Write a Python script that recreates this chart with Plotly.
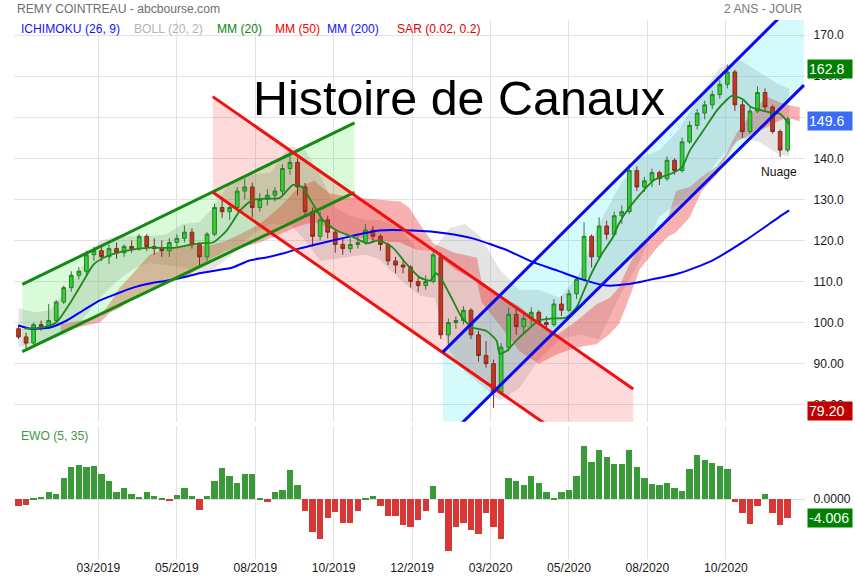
import plotly.graph_objects as go

# ---------------- DATA ----------------
# x = trading-session number (0 = start of the 2-year window); one candle per week
session = list(range(3, 514, 5))

opens = [98.5, 96.5, 95, 99.5, 99, 100.5, 105, 108.5, 111.5, 112.5,
         116.5, 117.5, 116, 118, 117, 118.5, 118, 121, 118.5, 118,
         117.5, 119.5, 120.5, 122, 119, 116, 121.5, 128, 127, 128,
         132, 133, 128, 130, 131, 132, 137.5, 139, 133, 127,
         121, 125, 122, 119, 118, 119, 119.5, 122.5, 121, 119,
         115, 114, 113.5, 110, 109, 110, 116, 97, 100, 100.5,
         103, 97, 92, 90, 83, 94, 102, 99, 101, 102.5,
         100, 99.5, 104.5, 103, 107, 110.5, 121, 116, 123.5, 121.5,
         126, 127, 137, 133, 134.5, 136.5, 135, 139.5, 137, 144,
         148, 151, 153, 155.5, 158, 161, 153, 146.5, 151.5, 156,
         152.5, 146.5, 142]
highs = [99.5, 97.5, 100, 100.5, 104.5, 105.5, 109, 112.5, 113.5, 117.5,
         118.5, 118.5, 119, 119.5, 119, 120, 121.5, 121.5, 120.5, 120,
         120.5, 121.5, 123.6, 123, 119.5, 122, 129, 130.5, 129, 133,
         135, 134, 131.5, 132.5, 133, 138.5, 142, 140, 134, 128,
         127, 126, 122.5, 120.5, 120.5, 121, 124, 123.5, 121.5, 119.5,
         116, 115.5, 114, 111, 111.5, 117.5, 117, 101, 101.5, 104,
         103.5, 98, 95.5, 91, 95, 103.7, 103.5, 102, 103.7, 103,
         101.5, 105.7, 106.5, 108, 111, 124.4, 121.5, 125.6, 124.8, 127,
         128.5, 138.6, 138, 135.5, 137.5, 137, 140.5, 140, 145, 149,
         152, 154, 156.5, 159, 162.8, 161.5, 154, 152.5, 157.5, 157,
         153, 147, 150]
lows = [96, 93.8, 94.5, 98, 98.5, 100, 104.5, 107.5, 110.5, 111.5,
        115, 115, 114.3, 115.5, 116, 117, 117.5, 117.5, 116.5, 116,
        116, 118.5, 119.5, 118, 113.5, 115, 121, 125.5, 125, 127,
        130, 125.6, 127, 128.5, 129.5, 131, 136, 131, 126, 118.5,
        120, 120.5, 117, 116.5, 117, 118, 119, 119.5, 117.5, 114,
        112, 112, 108.5, 107.5, 108, 109.5, 96, 94.5, 98.5, 99.5,
        96, 90.5, 89, 79.2, 82.5, 93, 97, 97.5, 99, 99.5,
        98, 99, 101.6, 102.5, 105.7, 110, 113.4, 115.5, 120.2, 121,
        124, 126.5, 132, 131.8, 133, 133.5, 134.5, 136, 136.5, 143.5,
        147, 149.5, 152, 154.5, 157, 151.5, 145, 146, 151, 151.5,
        146, 140.3, 141.5]
closes = [96.5, 95, 99.5, 99, 100.5, 105, 108.5, 111.5, 112.5, 116.5,
          117.5, 116, 118, 117, 118.5, 118, 121, 118.5, 118, 117.5,
          119.5, 120.5, 122, 119, 116, 121.5, 128, 127, 128, 132,
          133, 128, 130, 131, 132, 137.5, 139, 133, 127, 121,
          125, 122, 119, 118, 119, 119.5, 122.5, 121, 119, 115,
          114, 113.5, 110, 109, 110, 116.5, 97, 100, 100.5, 103,
          97, 92, 90, 83, 94, 102, 99, 101, 102.5, 100,
          99.5, 104.5, 103, 107, 110.5, 121, 116, 123.5, 121.5, 126,
          127, 137, 133, 134.5, 136.5, 135, 139.5, 137, 144, 148,
          151, 153, 155.5, 158, 161, 153, 146.5, 151.5, 156, 152.5,
          146.5, 142, 149.6]

# Elliott Wave Oscillator (5, 35), one value per candle
ewo = [-1.4, -1.2, 0.3, 0.6, 1.6, 1.2, 4.5, 7.0, 7.4, 7.0,
       7.2, 5.5, 4.0, 1.5, 2.5, 1.2, 0.6, 1.5, 0.7, 0.3,
       -0.4, 1.0, 2.5, 0.8, -2.2, 0.8, 4.0, 6.8, 5.0, 3.5,
       5.5, 5.5, 0.2, -0.5, 1.5, 2.0, 6.3, 3.0, -2.5, -7.0,
       -8.5, -4.0, -2.8, -5.0, -5.0, -2.5, 0.2, 0.8, -1.5, -3.5,
       -3.5, -5.5, -6.0, -4.5, -2.5, 2.8, -3.0, -11.0, -6.0, -5.0,
       -6.5, -7.5, -3.0, -6.0, -8.5, 4.5, 4.0, 3.0, 5.0, 3.5,
       1.5, 0.3, 1.5, 2.0, 5.0, 11.5, 8.0, 10.5, 9.0, 7.5,
       7.5, 10.5, 7.0, 4.5, 3.2, 3.0, 3.5, 2.5, 1.8, 6.5,
       9.5, 8.5, 7.8, 7.2, 6.5, -0.5, -3.0, -5.3, -1.5, 1.2,
       -3.0, -5.5, -4.006]

# moving averages (session, value)
mm20_x = [7, 19, 28, 38, 46, 53, 62, 73, 88, 106, 115, 123, 132, 141, 150, 158, 168, 176, 185, 191,
          198, 205, 214, 225, 234, 242, 251, 260, 269, 276, 280, 284, 291, 297, 304, 313, 320, 322, 327, 333,
          340, 348, 357, 366, 373, 377, 383, 390, 397, 401, 408, 424, 436, 443, 448, 457, 466, 472, 476, 483,
          489, 501, 508, 514]
mm20_v = [98.5, 98.8, 100, 105.2, 110.1, 114.2, 116.2, 117.4, 118.2, 118.2, 118.8, 119.3, 119.5, 122.4, 127.3, 129.8, 130.2, 130.3, 133.5, 133,
          129, 124.9, 122.4, 120.8, 119.3, 120, 118.3, 114.4, 111, 110.2, 112, 110.2, 105.4, 101.2, 98.8, 98, 95.6, 92.4, 93.2, 95.6,
          98, 100.5, 101, 101.2, 103.7, 107, 112, 116.8, 120.7, 124, 128, 134.6, 136.3, 137.8, 141.8, 146.7, 151.6, 154, 155.2, 154.4,
          152.4, 151.2, 150.8, 148.3]

mm200_x = [3, 11, 24, 35, 46, 57, 68, 79, 90, 101, 112, 123, 134, 145, 156, 168, 178, 189, 198, 221,
           242, 264, 287, 304, 327, 344, 360, 375, 393, 406, 419, 441, 463, 485, 507, 514]
mm200_v = [99.3, 98.5, 98.8, 100.5, 103, 105.4, 107, 108.5, 109.5, 110.2, 111, 112, 112.7, 113.4, 115.1, 115.9, 116.8, 118, 118.8, 120.8,
           122.4, 122.4, 121.7, 120.5, 117.6, 114.7, 112.7, 110.7, 109, 109.3, 110.2, 112, 115.1, 120, 125.6, 127.3]

# Bollinger (20, 2) envelope
boll_x = [3, 14, 24, 35, 46, 57, 68, 79, 90, 101, 112, 123, 132, 143, 156, 170, 183, 193, 203, 213,
          223, 233, 242, 256, 269, 279, 289, 299, 309, 322, 335, 348, 362, 375, 388, 401, 415, 428, 441, 454,
          468, 481, 494, 507, 514]
boll_up = [103.5, 102.5, 103, 108, 114, 120, 121, 121, 121, 121.5, 124, 124.5, 128, 134, 136, 136.5, 143, 142, 136, 128,
           126, 125, 125, 123, 117, 118, 123, 124, 121, 113, 108, 108, 106, 112, 124, 133, 140, 142, 147, 155,
           162, 164, 161, 158, 157]
boll_lo = [94, 95, 96, 97, 101, 106, 110, 113, 114.5, 114, 113.5, 112, 113, 116, 121, 124, 124, 120, 115, 115.5,
           116, 116.5, 115.5, 110.5, 106.5, 106, 93, 88, 85, 81, 84, 91, 96, 97, 96, 106, 115, 126, 129, 133,
           140, 145, 144, 141, 140.5]

# Ichimoku (26, 9) cloud: upper and lower edge
cloud_x = [31, 44, 57, 64, 70, 79, 90, 101, 115, 128, 141, 150, 163, 176, 189, 199, 209, 223, 239, 256,
           262, 269, 278, 292, 307, 310, 325, 335, 348, 360, 373, 386, 395, 401, 406, 415, 426, 434, 439, 448,
           456, 466, 472, 479, 487, 499, 512, 521]
cloud_top = [99.5, 100.5, 101.5, 105, 108.5, 112, 116.5, 118, 119, 118.5, 120, 121.5, 124, 128, 133, 134.5, 131.5, 130.5, 130, 129.5,
             128, 124, 119.3, 117, 115.8, 110, 106, 104, 100, 97, 100.4, 104.4, 106, 108.5, 112.6, 119, 122.3, 126, 132, 133,
             135.5, 138, 141, 146, 150, 155, 153, 152.4]
cloud_bot = [97.5, 99, 100, 102.5, 103.5, 106, 108.3, 109.5, 111, 115, 117.5, 118.3, 119.5, 121.5, 123.5, 124.5, 123, 121, 120, 119.5,
             118.5, 117.5, 117.5, 113, 110, 105, 98, 93, 90, 92.3, 93.9, 94.7, 97.2, 99.6, 104, 113, 118, 121, 122, 125.6,
             132, 136, 140, 144, 145.5, 147.5, 150, 149]

# drawn channels: [start session, end session], upper line values, lower line values
green_chan_x = [5.5, 225.8]
green_chan_up = [109.3, 148.6]
green_chan_lo = [92.9, 131.7]
red_chan_x = [131.8, 410.6]
red_chan_up = [155.0, 83.8]
red_chan_lo = [131.7, 60.4]
blue_chan_x = [284.3, 523.8]
blue_chan_up = [92.8, 180.2]
blue_chan_lo = [70.9, 157.8]

tick_pos = [56, 108, 160, 212, 264, 316, 368, 420, 472]
tick_labels = ["03/2019", "05/2019", "08/2019", "10/2019", "12/2019",
               "03/2020", "05/2020", "08/2020", "10/2020"]
price_ticks = [80, 90, 100, 110, 120, 130, 140, 150, 160, 170]
price_tick_text = ["80.00", "90.00", "100.0", "110.0", "120.0", "130.0",
                   "140.0", "150.0", "160.0", "170.0"]

last_high = 162.8
last_close = 149.6
period_low = 79.20
last_ewo = -4.006

# ---------------- GEOMETRY ----------------
# the page photo comes out ~1% smaller than the figure; compensate
SX = 0.9907
SY = 0.988
W = round(855 / SX)
H = round(580 / SY)
ML = 14 / SX
MT = 20 / SY
PLOT_R = 806 / SX
PLOT_B = 558 / SY
MR = W - PLOT_R
MB = H - PLOT_B
PW = PLOT_R - ML
PH = PLOT_B - MT


def fx(p):  # target picture px -> paper x
    return (p / SX - ML) / PW


def fy(p):  # target picture px -> paper y
    return (PLOT_B - p / SY) / PH


def fs(s):
    return s / SX


price_dom = [fy(421), 1]
ewo_dom = [0, fy(425)]

FONT = "Liberation Sans, Arial, sans-serif"
fig = go.Figure()

fig.add_trace(go.Candlestick(
    x=session, open=opens, high=highs, low=lows, close=closes,
    increasing=dict(fillcolor="#2fd02f", line=dict(color="#2d7d2d", width=1)),
    decreasing=dict(fillcolor="#c8341e", line=dict(color="#7d3020", width=1)),
    whiskerwidth=0, showlegend=False))

fig.add_trace(go.Scatter(x=mm200_x, y=mm200_v, mode="lines",
                         line=dict(color="#0000ff", width=2, shape="spline", smoothing=0.6),
                         showlegend=False))
fig.add_trace(go.Scatter(x=mm20_x, y=mm20_v, mode="lines",
                         line=dict(color="#1e8a1e", width=1.8, shape="spline", smoothing=0.6),
                         showlegend=False))

fig.add_trace(go.Bar(x=session, y=ewo, xaxis="x2", yaxis="y2", width=4.2,
                     marker=dict(color=["#3a9a3a" if v >= 0 else "#d93636" for v in ewo],
                                 line=dict(width=0)),
                     showlegend=False))


def band_path(xs, top, bot):
    fwd = " L ".join(f"{x},{y}" for x, y in zip(xs, top))
    back = " L ".join(f"{x},{y}" for x, y in zip(reversed(xs), reversed(bot)))
    return f"M {fwd} L {back} Z"


def band(xs, top, bot, fill_color):
    return dict(type="path", path=band_path(xs, top, bot), xref="x", yref="y",
                fillcolor=fill_color, line=dict(width=0), layer="between")


def channel_fill(xs, up, lo, fill_color):
    return band(xs, up, lo, fill_color)


def channel_lines(xs, up, lo, line_color):
    return [
        dict(type="line", x0=xs[0], y0=up[0], x1=xs[1], y1=up[1], xref="x", yref="y",
             line=dict(color=line_color, width=3), layer="above"),
        dict(type="line", x0=xs[0], y0=lo[0], x1=xs[1], y1=lo[1], xref="x", yref="y",
             line=dict(color=line_color, width=3), layer="above"),
    ]


shapes = [
    band(boll_x, boll_up, boll_lo, "rgba(150,150,150,0.26)"),
    band(cloud_x, cloud_top, cloud_bot, "rgba(236,60,60,0.40)"),
    channel_fill(green_chan_x, green_chan_up, green_chan_lo, "rgba(30,230,30,0.17)"),
    channel_fill(red_chan_x, red_chan_up, red_chan_lo, "rgba(245,40,40,0.17)"),
    channel_fill(blue_chan_x, blue_chan_up, blue_chan_lo, "rgba(0,225,235,0.17)"),
]
shapes += channel_lines(green_chan_x, green_chan_up, green_chan_lo, "#138a13")
shapes += channel_lines(red_chan_x, red_chan_up, red_chan_lo, "#f01010")
shapes += channel_lines(blue_chan_x, blue_chan_up, blue_chan_lo, "#0a0aee")

ann = []
ann.append(dict(text="REMY COINTREAU - abcbourse.com", xref="paper", yref="paper",
                x=fx(15), y=fy(9), xanchor="left", yanchor="middle", showarrow=False,
                font=dict(family=FONT, size=fs(12), color="#6e6e6e")))
ann.append(dict(text="2 ANS - JOUR", xref="paper", yref="paper",
                x=fx(805), y=fy(9), xanchor="right", yanchor="middle", showarrow=False,
                font=dict(family=FONT, size=fs(12), color="#7a7a7a")))
legend_items = [("ICHIMOKU (26, 9)", "#1414ff", 19), ("BOLL (20, 2)", "#b4b4b4", 132),
                ("MM (20)", "#118811", 215), ("MM (50)", "#ff0000", 273),
                ("MM (200)", "#1414ff", 325), ("SAR (0.02, 0.2)", "#e00000", 395)]
for txt, col, px in legend_items:
    ann.append(dict(text=txt, xref="paper", yref="paper", x=fx(px), y=fy(29),
                    xanchor="left", yanchor="middle", showarrow=False,
                    font=dict(family=FONT, size=fs(12), color=col)))
ann.append(dict(text="EWO (5, 35)", xref="paper", yref="paper", x=fx(19), y=fy(435),
                xanchor="left", yanchor="middle", showarrow=False,
                font=dict(family=FONT, size=fs(12), color="#3a9a3a")))
ann.append(dict(text="Histoire de Canaux", xref="paper", yref="paper", x=fx(460), y=fy(98),
                xanchor="center", yanchor="middle", showarrow=False,
                font=dict(family=FONT, size=fs(48), color="#000000")))
ann.append(dict(text="Nuage", xref="x", yref="y", x=507, y=136.7,
                xanchor="center", yanchor="middle", showarrow=False,
                font=dict(family=FONT, size=fs(12), color="#111111")))


def value_box(txt, yref, yv, color):
    return dict(text=txt, xref="paper", yref=yref, x=fx(808), y=yv,
                xanchor="left", yanchor="middle", showarrow=False, align="left",
                width=fs(42), height=fs(16), borderpad=1, bgcolor=color,
                font=dict(family=FONT, size=fs(14), color="white"))


ann.append(value_box(f"{last_high:.1f}", "y", 161.7, "#008000"))
ann.append(value_box(f"{last_close:.1f}", "y", 149.0, "#3a6cf5"))
ann.append(value_box(f"{period_low:.2f}", "y", 78.4, "#c00000"))
ann.append(value_box(f"{last_ewo:.3f}", "y2", -3.94, "#008000"))

fig.update_layout(
    width=W, height=H, autosize=False,
    margin=dict(l=ML, r=MR, t=MT, b=MB, pad=0),
    paper_bgcolor="white", plot_bgcolor="white",
    showlegend=False, bargap=0,
    font=dict(family=FONT, size=fs(12), color="#1a1a1a"),
    xaxis=dict(domain=[0, 1], range=[0, 524.5], anchor="y", tickvals=tick_pos,
               showticklabels=False, showgrid=True, gridcolor="#e3e3e3", gridwidth=1,
               zeroline=False, showline=False, ticks="", rangeslider=dict(visible=False)),
    yaxis=dict(domain=price_dom, range=[75.85, 173.66], side="right", anchor="x",
               tickvals=price_ticks, ticktext=price_tick_text, showgrid=True,
               gridcolor="#e3e3e3", gridwidth=1, zeroline=False, showline=False,
               ticks="outside", ticklen=5, tickcolor="rgba(0,0,0,0)",
               tickfont=dict(family=FONT, size=fs(12), color="#1a1a1a")),
    xaxis2=dict(domain=[0, 1], range=[0, 524.5], anchor="y2", matches="x",
                tickvals=tick_pos, ticktext=tick_labels, showgrid=True,
                gridcolor="#e3e3e3", gridwidth=1, zeroline=False, showline=False,
                ticks="", tickfont=dict(family=FONT, size=fs(12), color="#1a1a1a")),
    yaxis2=dict(domain=ewo_dom, range=[-12.8, 15.7], side="right", anchor="x2",
                tickvals=[0], ticktext=["0.0000"], showgrid=False, zeroline=True,
                zerolinecolor="#dcdcdc", zerolinewidth=1, showline=False,
                ticks="outside", ticklen=5, tickcolor="rgba(0,0,0,0)",
                tickfont=dict(family=FONT, size=fs(12), color="#1a1a1a")),
    shapes=shapes,
    annotations=ann,
)

fig.write_html(
    "out.html", config={"displayModeBar": False, "responsive": False},
    post_script=("var d=document.getElementById('{plot_id}');"
                 "d.style.position='absolute';d.style.left='0px';d.style.top='0px';"
                 "document.documentElement.style.margin='0';"
                 "document.body.style.margin='0';document.body.style.padding='0';"
                 "document.documentElement.style.overflow='hidden';"
                 "document.body.style.overflow='hidden';"))
